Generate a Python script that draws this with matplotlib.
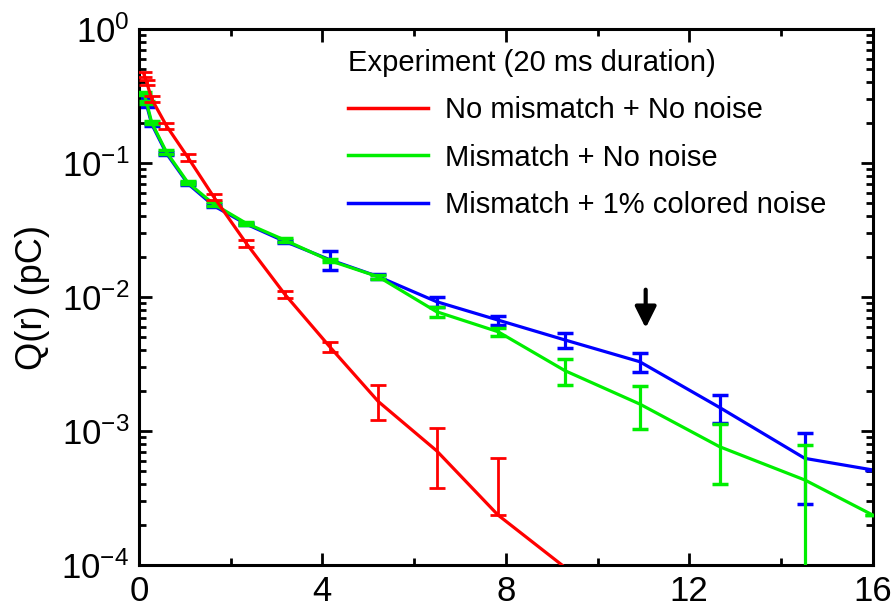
import matplotlib
matplotlib.use("Agg")
import matplotlib.pyplot as plt
from matplotlib.lines import Line2D

plt.rcParams['font.family'] = ['Liberation Sans', 'DejaVu Sans']
plt.rcParams['axes.unicode_minus'] = False

# radial positions (same grid for all series)
r = [0.11, 0.17, 0.28, 0.6, 1.07, 1.63, 2.34, 3.18, 4.16, 5.22, 6.49, 7.83, 9.29, 10.92, 12.66, 14.52, 16.0]

# No mismatch + No noise
q_red = [0.46, 0.40, 0.30, 0.19, 0.110, 0.056, 0.0252, 0.0105, 0.00426, 0.00166, 0.000713, 0.000236, 0.000096]
err_red_lo = [0.02, 0.02, 0.015, 0.01, 0.006, 0.003, 0.0015, 0.0006, 0.00035, 0.00045, 0.00034, 0.0, 0.0]
err_red_hi = [0.02, 0.02, 0.015, 0.01, 0.006, 0.003, 0.0015, 0.0006, 0.00035, 0.00055, 0.00034, 0.00039, 0.0]

# Mismatch + No noise
q_green = [0.331, 0.282, 0.200, 0.121, 0.0713, 0.0494, 0.0355, 0.0266, 0.0187, 0.01417, 0.00777,
           0.00551, 0.00282, 0.00159, 0.000764, 0.000431, 0.000236]
err_green = [0.01, 0.008, 0.006, 0.004, 0.002, 0.0015, 0.001, 0.0008, 0.0006, 0.0005, 0.0007,
             0.0004, 0.00063, 0.00056, 0.00036, 0.00035, 0.0]

# Mismatch + 1% colored noise
q_blue = [0.30, 0.27, 0.195, 0.118, 0.070, 0.048, 0.035, 0.026, 0.0190, 0.0142, 0.00923,
          0.00673, 0.00478, 0.00329, 0.0015, 0.000625, 0.000512]
err_blue = [0.008, 0.006, 0.005, 0.003, 0.002, 0.0012, 0.0008, 0.0006, 0.003, 0.0006, 0.0008,
            0.0005, 0.00065, 0.00052, 0.00036, 0.00034, 0.0]

labels = ['No mismatch + No noise', 'Mismatch + No noise', 'Mismatch + 1% colored noise']
colors = ['#ff0000', '#00ee00', '#0000ff']

fig = plt.figure(figsize=(8.96, 6.15), dpi=100)
ax = fig.add_axes([0.155, 0.0813, 0.819, 0.8715])

n_red = len(q_red)
ax.errorbar(r[:n_red], q_red, yerr=[err_red_lo, err_red_hi], color=colors[0], lw=2.3,
            elinewidth=2.0, capsize=6, capthick=2.0, label=labels[0], zorder=4)
ax.errorbar(r, q_green, yerr=err_green, color=colors[1], lw=2.3,
            elinewidth=2.3, capsize=6, capthick=2.5, label=labels[1], zorder=3)
ax.errorbar(r, q_blue, yerr=err_blue, color=colors[2], lw=2.3,
            elinewidth=2.3, capsize=6, capthick=2.5, label=labels[2], zorder=2)

ax.set_yscale('log')
ax.set_xlim(0, 16)
ax.set_ylim(1e-4, 1)
ax.set_xticks([0, 4, 8, 12, 16])
ax.set_xticks([2, 6, 10, 14], minor=True)
ax.tick_params(which='both', direction='in', top=True, right=True, labelsize=25, width=2)
ax.tick_params(which='major', length=9, pad=7)
ax.tick_params(which='minor', length=5)
for s in ax.spines.values():
    s.set_linewidth(2.2)

ax.set_ylabel('Q(r) (pC)', fontsize=26, labelpad=8)

# arrow marking the point of interest
ax.annotate('', xy=(11.05, 0.0056), xytext=(11.05, 0.0119),
            arrowprops=dict(arrowstyle='-|>', color='black', lw=3, mutation_scale=32))

# legend lines only, no error bars
handles = [Line2D([], [], color=c, lw=2.5) for c in colors]
leg = ax.legend(handles, labels, title='Experiment (20 ms duration)', frameon=False,
                fontsize=21, title_fontsize=21, loc='upper left',
                bbox_to_anchor=(333 / 896, 1 - 34 / 615), bbox_transform=fig.transFigure,
                handlelength=2.75, handletextpad=0.6, labelspacing=0.67, borderpad=0,
                alignment='left')

fig.savefig('out.png', dpi=100)
